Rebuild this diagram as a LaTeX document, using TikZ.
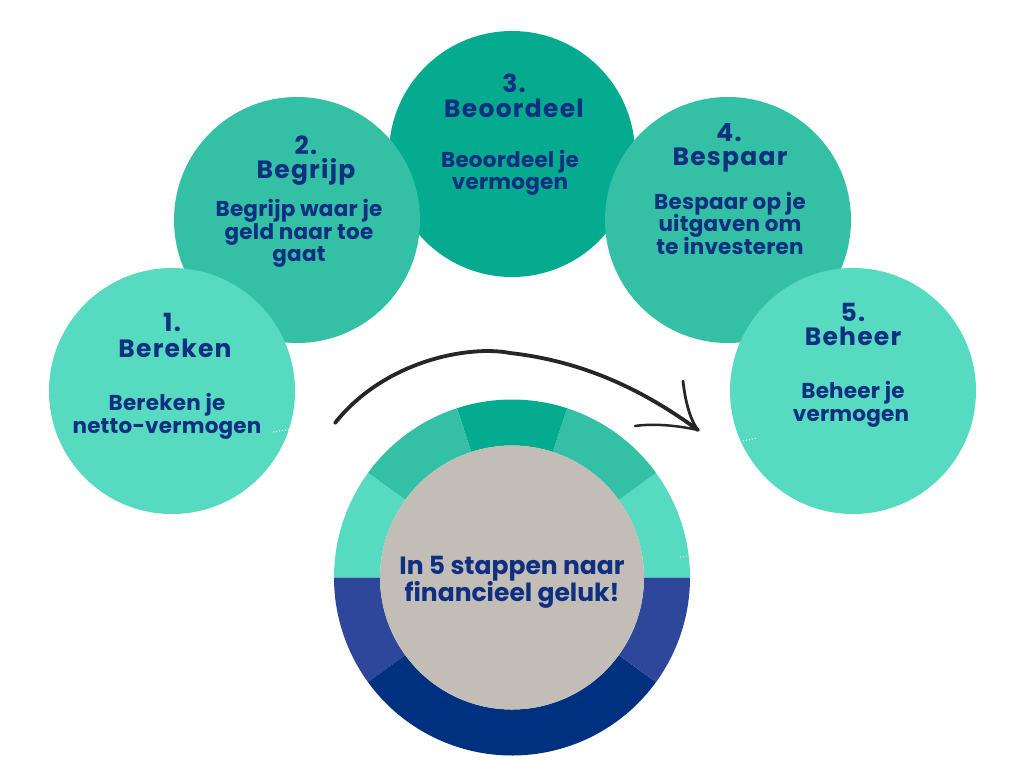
\documentclass[tikz,border=0pt]{standalone}
\usepackage{fontspec}
\setmainfont{Poppins}
\definecolor{cLight}{HTML}{56DBC1}
\definecolor{cMid}{HTML}{33C0A4}
\definecolor{cDark}{HTML}{05AB8F}
\definecolor{cBlue}{HTML}{2E479B}
\definecolor{cNavy}{HTML}{003080}
\definecolor{cGray}{HTML}{C3BDB8}
\definecolor{cText}{HTML}{0F2F80}
\tikzset{
  stepdisc/.style={circle, minimum size=246pt, inner sep=0pt, draw=none},
  numtext/.style={anchor=base, text=cText, font=\bfseries\fontsize{25}{27}\selectfont\addfontfeature{LetterSpace=5}, inner sep=0pt},
  bodytext/.style={anchor=base, text=cText, font=\bfseries\fontsize{21.5}{24}\selectfont\addfontfeature{LetterSpace=1}, inner sep=0pt},
  hubtext/.style={anchor=base, text=cText, font=\bfseries\fontsize{25}{28}\selectfont, inner sep=0pt},
  sketch/.style={line width=3.8pt, line cap=round, line join=round, draw=black!85},
  dots/.style={white, line width=1pt, dotted}
}
\begin{document}
\begin{tikzpicture}[x=1pt,y=-1pt]
\useasboundingbox[fill=white] (0,0) rectangle (1024,768);
% step discs
\node[stepdisc, fill=cDark]  (s3) at (512,154) {};
\node[stepdisc, fill=cMid]   (s2) at (297,220) {};
\node[stepdisc, fill=cMid]   (s4) at (728,220) {};
\node[stepdisc, fill=cLight] (s1) at (172,391) {};
\node[stepdisc, fill=cLight] (s5) at (853,391) {};
% donut
\coordinate (hubc) at (512,577.5);
\foreach \a/\b/\c in {0/36/cLight,36/72/cMid,72/108/cDark,108/144/cMid,144/180/cLight,180/216/cBlue,216/324/cNavy,324/360/cBlue}{
  \fill[\c] ([shift={(\a:178pt)}]hubc) arc[start angle=\a, end angle=\b, radius=178pt]
     -- ([shift={(\b:132pt)}]hubc) arc[start angle=\b, end angle=\a, radius=132pt] -- cycle;
}
\node[circle, minimum size=264pt, inner sep=0pt, fill=cGray] (hub) at (hubc) {};
% arrow
\coordinate (aS) at (335,423);
\coordinate (aE) at (698,430);
\coordinate (aL) at (683,381);
\coordinate (aB) at (635,426);
\draw[sketch] (aS) .. controls (385,360) and (470,345) .. (510,353)
   .. controls (590,362) and (650,395) .. (aE);
\draw[sketch, line width=2.8pt] (aL) .. controls (685,400) and (690,420) .. (aE);
\draw[sketch, line width=2.5pt] (aB) .. controls (655,423) and (680,426) .. (aE);
% small dots
\coordinate (d1a) at (273,432); \coordinate (d1b) at (292,429);
\coordinate (d5a) at (743,441); \coordinate (d5b) at (757,438);
\coordinate (dha) at (680,557); \coordinate (dhb) at (690,556);
\draw[dots] (d1a) -- (d1b);
\draw[dots] (d5a) -- (d5b);
\draw[dots] (dha) -- (dhb);
% texts step 1
\node[numtext]  (t1n) at (172,331.5) {1.};
\node[numtext]  (t1t) at (175,357) {Bereken};
\node[bodytext] (t1a) at (167,410) {Bereken je};
\node[bodytext] (t1b) at (167,433) {netto-vermogen};
% step 2
\node[numtext]  (t2n) at (306,154.5) {2.};
\node[numtext]  (t2t) at (306,178.5) {Begrijp};
\node[bodytext] (t2a) at (299,216.5) {Begrijp waar je};
\node[bodytext] (t2b) at (299,239) {geld naar toe};
\node[bodytext] (t2c) at (299,261) {gaat};
% step 3
\node[numtext]  (t3n) at (514,92.5) {3.};
\node[numtext]  (t3t) at (514,117.5) {Beoordeel};
\node[bodytext] (t3a) at (510,167.5) {Beoordeel je};
\node[bodytext] (t3b) at (510,189) {vermogen};
% step 4
\node[numtext]  (t4n) at (729,141.5) {4.};
\node[numtext]  (t4t) at (730,165.5) {Bespaar};
\node[bodytext] (t4a) at (730,209) {Bespaar op je};
\node[bodytext] (t4b) at (730,231.5) {uitgaven om};
\node[bodytext] (t4c) at (730,254) {te investeren};
% step 5
\node[numtext]  (t5n) at (853,321.5) {5.};
\node[numtext]  (t5t) at (853,345.5) {Beheer};
\node[bodytext] (t5a) at (853,398.5) {Beheer je};
\node[bodytext] (t5b) at (851,421) {vermogen};
% hub text
\node[hubtext] (h1) at (512,574.5) {In 5 stappen naar};
\node[hubtext] (h2) at (512,601) {financieel geluk!};
\end{tikzpicture}
\end{document}
